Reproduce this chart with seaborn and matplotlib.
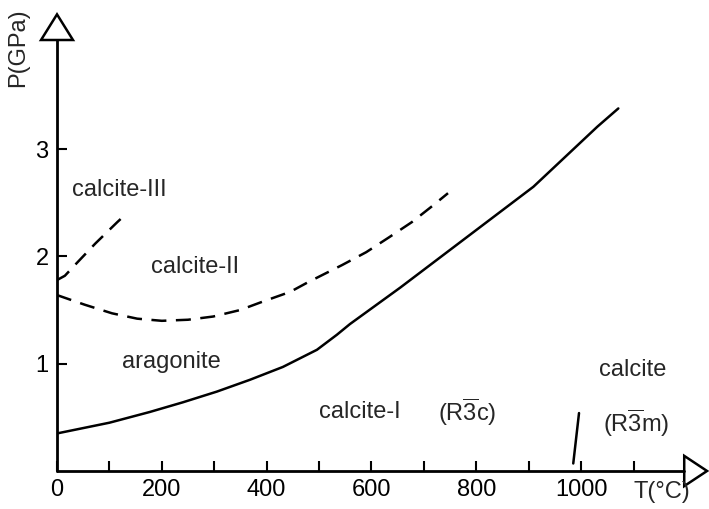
import matplotlib
matplotlib.use("Agg")
import matplotlib.pyplot as plt
import seaborn as sns
import pandas as pd

# Phase boundaries: T in degC, P in GPa
arag_calc_t = [0, 100, 177, 240, 305, 368, 431, 496, 534, 559, 655, 782, 909, 1031, 1071]
arag_calc_p = [0.35, 0.45, 0.55, 0.64, 0.74, 0.85, 0.97, 1.13, 1.27, 1.37, 1.71, 2.18, 2.65, 3.21, 3.38]

calc2_t = [0, 53, 105, 153, 200, 250, 298, 349, 393, 445, 479, 544, 590, 634, 677, 716, 746]
calc2_p = [1.64, 1.55, 1.47, 1.42, 1.40, 1.41, 1.44, 1.50, 1.58, 1.67, 1.76, 1.92, 2.04, 2.18,
           2.32, 2.47, 2.59]

calc3_t = [0, 15, 38, 73, 115, 126]
calc3_p = [1.78, 1.82, 1.94, 2.12, 2.32, 2.37]

r3c_r3m_t = [985, 996]
r3c_r3m_p = [0.07, 0.54]

x_major = [0, 200, 400, 600, 800, 1000]
x_minor = [100, 300, 500, 700, 900, 1100]
y_ticks = [1, 2, 3]

region_labels = ["calcite-III", "calcite-II", "aragonite", "calcite-I",
                 r"(R$\overline{3}$c)", "calcite", r"(R$\overline{3}$m)"]
region_t = [118, 263, 218, 578, 782, 1099, 1105]
region_p = [2.62, 1.90, 1.02, 0.55, 0.55, 0.94, 0.45]

sns.set_theme(style="ticks")
plt.rcParams["font.family"] = ["Liberation Sans", "DejaVu Sans"]
plt.rcParams["mathtext.fontset"] = "custom"
plt.rcParams["mathtext.rm"] = "Liberation Sans"
plt.rcParams["mathtext.it"] = "Liberation Sans"

fig = plt.figure(figsize=(7.09, 5.09), dpi=100)
ax = fig.add_axes([0.0804, 0.0747, 0.9196, 0.8998])

lines = [
    (arag_calc_t, arag_calc_p, "solid"),
    (calc2_t, calc2_p, "dashed"),
    (calc3_t, calc3_p, "dashed"),
    (r3c_r3m_t, r3c_r3m_p, "solid"),
]
for t, p, style in lines:
    df = pd.DataFrame({"T": t, "P": p})
    l = sns.lineplot(data=df, x="T", y="P", sort=False, estimator=None,
                     color="black", lw=1.8, ax=ax)
    if style == "dashed":
        l.lines[-1].set_dashes((6, 3.8))

ax.set_xlim(0, 1244)
ax.set_ylim(0, 4.27)
for s in ax.spines.values():
    s.set_visible(False)

# axes drawn as arrows with open triangular heads
ax.plot([0, 0.962], [0, 0], color="black", lw=2, transform=ax.transAxes, clip_on=False)
ax.plot([0, 0], [0, 0.941], color="black", lw=2, transform=ax.transAxes, clip_on=False)
ax.add_patch(plt.Polygon([(0.962, -0.033), (0.962, 0.033), (0.997, 0)], closed=True,
                         facecolor="white", edgecolor="black", lw=1.8,
                         transform=ax.transAxes, clip_on=False))
ax.add_patch(plt.Polygon([(-0.0245, 0.941), (0.0245, 0.941), (0, 0.997)], closed=True,
                         facecolor="white", edgecolor="black", lw=1.8,
                         transform=ax.transAxes, clip_on=False))

ax.set_xticks(x_major)
ax.set_xticks(x_minor, minor=True)
ax.set_yticks(y_ticks)
ax.tick_params(which="both", direction="in", length=7, width=1.5, labelsize=17,
               colors="black", pad=6)
ax.set_xlabel("")
ax.set_ylabel("")

for lab, t, p in zip(region_labels, region_t, region_p):
    ax.text(t, p, lab, fontsize=17, ha="center", va="center")

ax.text(1155, -0.2, "T(°C)", fontsize=17, ha="center", va="center", clip_on=False)
ax.text(-74, 3.95, "P(GPa)", fontsize=17, ha="center", va="center", rotation=90,
        clip_on=False)

plt.savefig("out.png", dpi=100)
